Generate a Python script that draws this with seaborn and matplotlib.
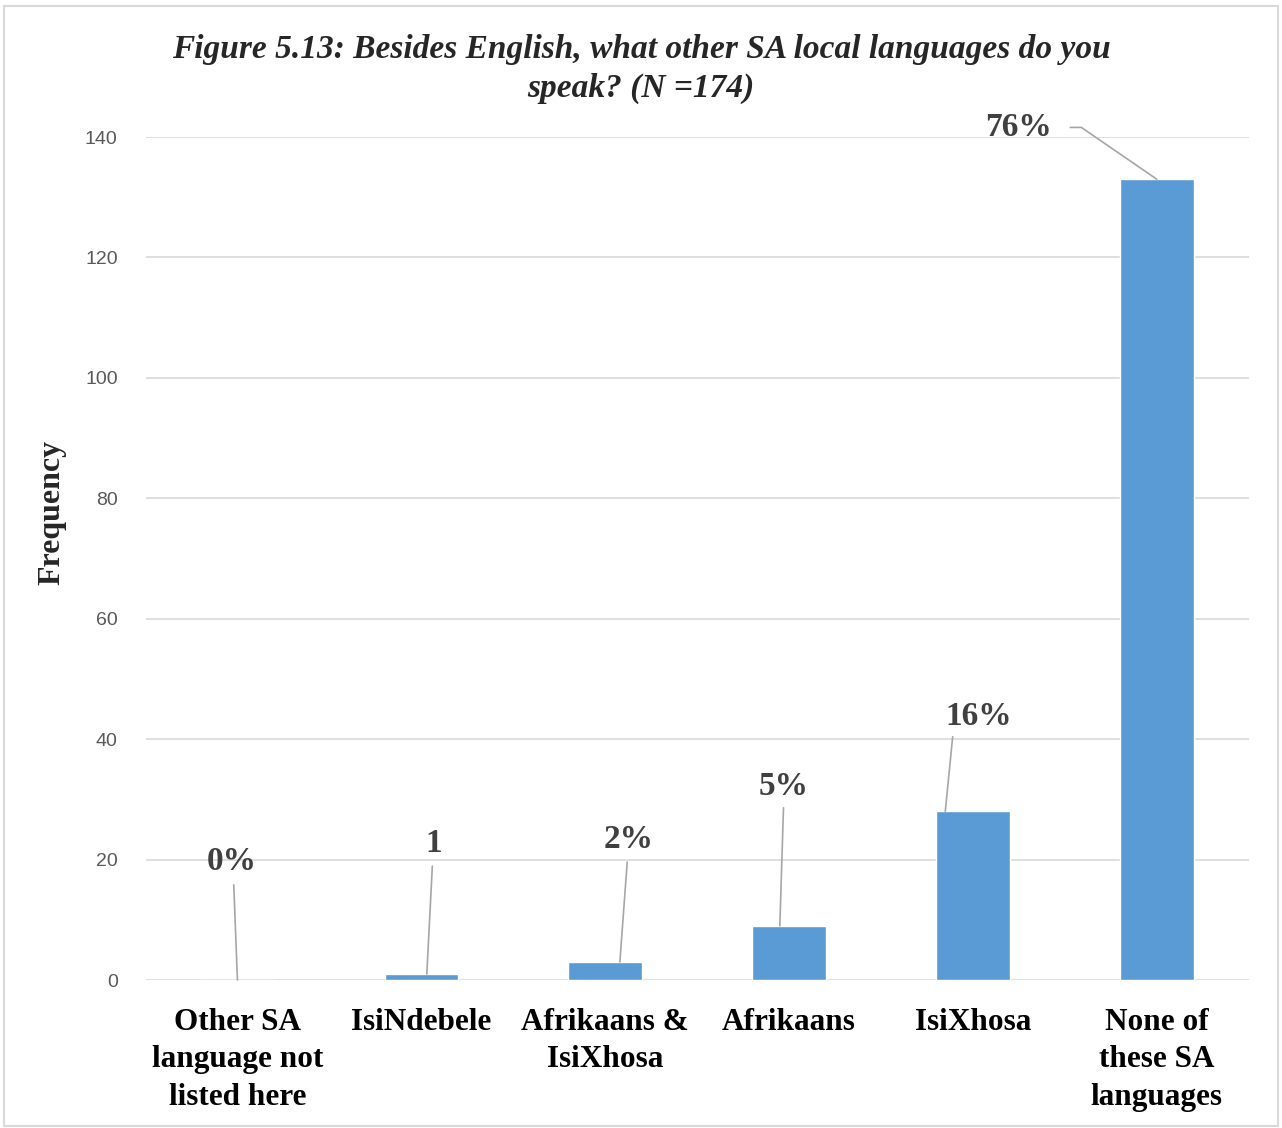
import matplotlib
matplotlib.use("Agg")
import matplotlib.pyplot as plt
import seaborn as sns
import pandas as pd
from matplotlib.patches import Rectangle

categories = ["Other SA\nlanguage not\nlisted here", "IsiNdebele", "Afrikaans &\nIsiXhosa",
              "Afrikaans", "IsiXhosa", "None of\nthese SA\nlanguages"]
frequencies = [0, 1, 3, 9, 28, 133]
data_labels = ["0%", "1", "2%", "5%", "16%", "76%"]
yticks = [0, 20, 40, 60, 80, 100, 120, 140]

# label placement (layout only): text position, leader start and leader end x, in data coords
label_pos = [(-0.03, 19.6), (1.065, 22.6), (2.13, 23.4), (2.97, 32.2), (4.03, 43.8), (4.25, 141.6)]
leader_start = [(-0.02, 15.8), (1.06, 18.9), (2.12, 19.6), (2.97, 28.6), (3.89, 40.4), (4.53, 141.6)]
leader_end_x = [0.0, 1.03, 2.08, 2.95, 3.85, 5.0]

sns.set_style("white")
plt.rcParams['font.family'] = ['Liberation Sans', 'DejaVu Sans']

df = pd.DataFrame({"cat": categories, "freq": frequencies})

fig = plt.figure(figsize=(12.82, 11.28), dpi=100)
ax = fig.add_axes([0.1135, 0.1312, 0.8605, 0.7473])
sns.barplot(data=df, x="cat", y="freq", color="#5B9BD5", saturation=1, width=0.4, ax=ax)

ax.set_ylim(0, 140)
ax.set_xlim(-0.5, 5.5)
ax.set_yticks(yticks)
ax.yaxis.grid(True, color="#D9D9D9", linewidth=1.2)
ax.set_axisbelow(True)
for s in ax.spines.values():
    s.set_visible(False)
ax.tick_params(axis="y", length=0, pad=20, labelsize=14, labelcolor="#595959")
ax.tick_params(axis="x", length=0, pad=20)
ax.set_xticks(range(len(categories)))
ax.set_xticklabels(categories, fontfamily="Liberation Serif", fontweight="bold",
                   fontsize=22.5, color="black", linespacing=1.38)
ax.set_xlabel("")
ax.set_ylabel("Frequency", fontfamily="Liberation Serif", fontweight="bold", fontsize=23)
ax.yaxis.set_label_coords(-0.072, 0.555)

# data labels with leader lines
for i, (lab, (tx, ty), (sx, sy)) in enumerate(zip(data_labels, label_pos, leader_start)):
    ax.text(tx, ty, lab, ha="center", va="center", fontfamily="Liberation Serif",
            fontweight="bold", fontsize=24, color="#404040", clip_on=False)
    bar_top = frequencies[i]
    if i == 5:
        ax.plot([sx, sx + 0.06, leader_end_x[i]], [sy, sy, bar_top], color="#A6A6A6", lw=1.2, clip_on=False)
    else:
        ax.plot([sx, leader_end_x[i]], [sy, bar_top], color="#A6A6A6", lw=1.2, clip_on=False)

fig.text(0.5, 0.956, "Figure 5.13: Besides English, what other SA local languages do you",
         ha="center", va="center", fontfamily="Liberation Serif", fontweight="bold",
         fontstyle="italic", fontsize=24)
fig.text(0.5, 0.922, "speak? (N =174)", ha="center", va="center", fontfamily="Liberation Serif",
         fontweight="bold", fontstyle="italic", fontsize=24)

fig.patches.append(Rectangle((0.003, 0.002), 0.994, 0.993, transform=fig.transFigure,
                             fill=False, edgecolor="#D9D9D9", linewidth=1.5))

fig.savefig("out.png", dpi=100)
